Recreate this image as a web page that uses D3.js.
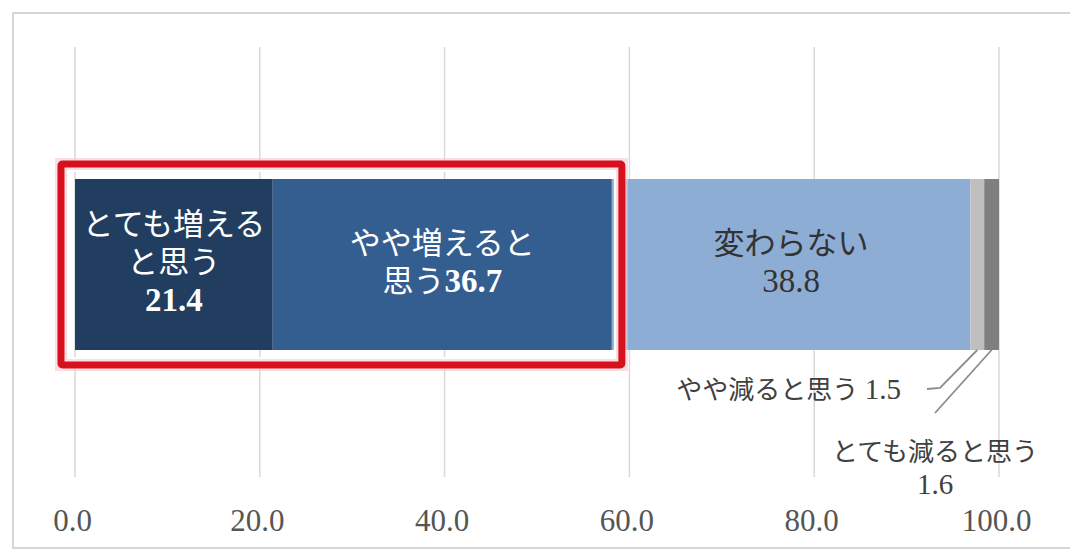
<!DOCTYPE html>
<html><head><meta charset="utf-8">
<script src="https://cdn.jsdelivr.net/npm/d3@7"></script>
<style>
html,body{margin:0;padding:0;background:#fff;}
svg{display:block;}
</style></head>
<body>
<svg id="chart" width="1070" height="553"></svg>
<script>
const categories = ["とても増えると思う","やや増えると思う","変わらない","やや減ると思う","とても減ると思う"];
const values = [21.4, 36.7, 38.8, 1.5, 1.6];
const tickValues = [0, 20, 40, 60, 80, 100];
const tickLabels = ["0.0","20.0","40.0","60.0","80.0","100.0"];
const insideLines = [["とても増える","と思う"],["やや増えると","思う"],["変わらない"]];
const colors = ["#213d60","#355e90","#8eadd5","#bfbfbf","#7f7f7f"];

const svg = d3.select("#chart");
const FONT = "'Liberation Serif','Noto Sans CJK JP',serif";
const fmt = d3.format(".1f");

// frame
svg.append("rect").attr("x",13).attr("y",13).attr("width",1060).attr("height",535)
  .attr("fill","#fff").attr("stroke","#d6d6d6").attr("stroke-width",2);

const x = d3.scaleLinear().domain([0,100]).range([75,999]);
const barTop = 179, barH = 171;

// gridlines
svg.append("g").selectAll("line").data(tickValues).join("line")
  .attr("x1",d=>x(d)).attr("x2",d=>x(d)).attr("y1",47).attr("y2",477)
  .attr("stroke","#d9d9d9").attr("stroke-width",1.5);

// tick labels via axis
const axis = d3.axisBottom(x).tickValues(tickValues).tickSize(0).tickPadding(0)
  .tickFormat((d,i)=>tickLabels[i]);
const ag = svg.append("g").attr("transform","translate(-3,531)").call(axis);
ag.select(".domain").remove();
ag.selectAll("text").attr("font-family",FONT).attr("font-size",31).attr("fill","#555")
  .attr("dy","0");

// stacked data
let cum = 0;
const segs = values.map((v,i)=>{const s={cat:categories[i],v,x0:cum,x1:cum+v,i}; cum+=v; return s;});

svg.append("g").selectAll("rect").data(segs).join("rect")
  .attr("x",d=>x(d.x0)).attr("width",d=>x(d.x1)-x(d.x0))
  .attr("y",barTop).attr("height",barH)
  .attr("fill",d=>colors[d.i]);

// inside labels
const lh = 38;
segs.slice(0,3).forEach((d,i)=>{
  const lines = insideLines[i].map(s=>[{t:s,num:false}]);
  const val = {t:fmt(d.v),num:true};
  if(i===1) lines[lines.length-1].push(val); else lines.push([val]);
  const cx = (x(d.x0)+x(d.x1))/2;
  const cy = barTop + barH/2 - 3;
  const n = lines.length;
  const t = svg.append("text").attr("text-anchor","middle")
    .attr("font-family",FONT).attr("font-size",31)
    .attr("fill", i<2 ? "#fff" : "#333");
  lines.forEach((ln,k)=>{
    ln.forEach((part,j)=>{
      const ts = t.append("tspan").text(part.t);
      if(j===0) ts.attr("x",cx).attr("y", cy + (k-(n-1)/2)*lh + 11);
      if(part.num) ts.attr("font-size",33).attr("font-weight", i<2 ? "bold" : "normal");
    });
  });
});

// red highlight box (white inner gap + red stroke + soft glow)
const bx0 = x(0)-14, bx1 = x(segs[1].x1)+10, by0 = barTop-15, by1 = barTop+barH+15;
svg.append("rect").attr("x",bx0+5).attr("y",by0+5).attr("width",bx1-bx0-10).attr("height",by1-by0-10)
  .attr("fill","none").attr("stroke","#fff").attr("stroke-width",6);
svg.append("rect").attr("x",bx0).attr("y",by0).attr("width",bx1-bx0).attr("height",by1-by0)
  .attr("fill","none").attr("stroke","#f6c9cc").attr("stroke-width",12).attr("opacity",0.6);
svg.append("rect").attr("x",bx0).attr("y",by0).attr("width",bx1-bx0).attr("height",by1-by0)
  .attr("fill","none").attr("stroke","#d7101e").attr("stroke-width",7).attr("rx",1.5);

// outside labels with leaders
const s3 = segs[3], s4 = segs[4];
const c3 = (x(s3.x0)+x(s3.x1))/2, c4 = (x(s4.x0)+x(s4.x1))/2;
const lineG = svg.append("g").attr("fill","none").attr("stroke","#8c8c8c").attr("stroke-width",1.8);
lineG.append("polyline").attr("points",`${927},${389} ${940},${388} ${c3},${barTop+barH}`);
lineG.append("polyline").attr("points",`${935},${413} ${c4},${barTop+barH}`);

const t3 = svg.append("text").attr("x",901).attr("y",399).attr("text-anchor","end")
  .attr("font-family",FONT).attr("font-size",26).attr("fill","#404040");
t3.append("tspan").text(s3.cat+" ");
t3.append("tspan").attr("font-size",29).text(fmt(s3.v));
const t4 = svg.append("text").attr("text-anchor","middle")
  .attr("font-family",FONT).attr("font-size",26).attr("fill","#404040");
t4.append("tspan").attr("x",935).attr("y",461).text(s4.cat);
t4.append("tspan").attr("x",935).attr("y",494).attr("font-size",29).text(fmt(s4.v));
</script>
</body></html>
